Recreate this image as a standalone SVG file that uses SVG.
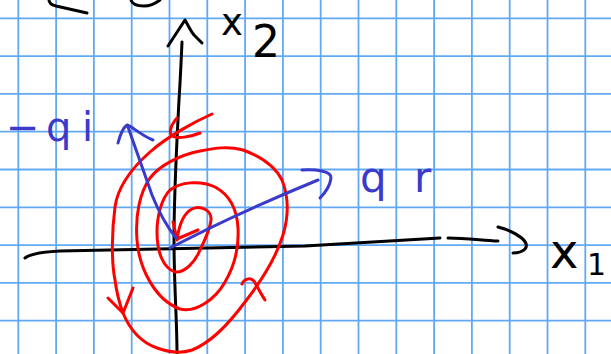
<svg xmlns="http://www.w3.org/2000/svg" width="611" height="354" viewBox="0 0 611 354">
<style>
.grid line{stroke:#62a9f4;stroke-width:1.8}
.ink{fill:none;stroke-linecap:round;stroke-linejoin:round;stroke-width:3}
.k{stroke:#000}
.b{stroke:#3a3acb}
.r{stroke:#ff0000}
.lbl{font-family:"DejaVu Sans",sans-serif}
</style>
<rect width="611" height="354" fill="#fff"/>
<g class="grid" id="grid">
<line x1="18.3" y1="0" x2="18.3" y2="354"/><line x1="56.1" y1="0" x2="56.1" y2="354"/><line x1="93.9" y1="0" x2="93.9" y2="354"/><line x1="131.7" y1="0" x2="131.7" y2="354"/><line x1="169.5" y1="0" x2="169.5" y2="354"/><line x1="207.3" y1="0" x2="207.3" y2="354"/><line x1="245.1" y1="0" x2="245.1" y2="354"/><line x1="282.9" y1="0" x2="282.9" y2="354"/><line x1="320.7" y1="0" x2="320.7" y2="354"/><line x1="358.5" y1="0" x2="358.5" y2="354"/><line x1="396.3" y1="0" x2="396.3" y2="354"/><line x1="434.1" y1="0" x2="434.1" y2="354"/><line x1="471.9" y1="0" x2="471.9" y2="354"/><line x1="509.7" y1="0" x2="509.7" y2="354"/><line x1="547.5" y1="0" x2="547.5" y2="354"/><line x1="585.3" y1="0" x2="585.3" y2="354"/>
<line x1="0" y1="18.3" x2="611" y2="18.3"/><line x1="0" y1="56.1" x2="611" y2="56.1"/><line x1="0" y1="93.9" x2="611" y2="93.9"/><line x1="0" y1="131.7" x2="611" y2="131.7"/><line x1="0" y1="169.5" x2="611" y2="169.5"/><line x1="0" y1="207.3" x2="611" y2="207.3"/><line x1="0" y1="245.1" x2="611" y2="245.1"/><line x1="0" y1="282.9" x2="611" y2="282.9"/><line x1="0" y1="320.7" x2="611" y2="320.7"/>
</g>
<g id="top-fragments" class="ink k">
<path d="M49,0 C49,3 52,5 56,6 L87,13"/>
<path d="M131,0 C132,4 137,6 144,6 C150,6 156,3 160,0"/>
</g>
<g id="connectors">
<g id="y-axis" class="ink k">
<path d="M182,42 C181,65 180,85 179,100 C177,140 174,190 174,240 C174,285 177,320 177,354"/>
<path d="M168,46 L185,20 C188,25 190,30 194,35 L202,43"/>
</g>
<g id="x-axis" class="ink k">
<path d="M25,258 C30,254 40,252 60,251 L305,246 L440,238 M448,238 C465,238 480,240 498,241"/>
<path d="M498,227 C520,233 530,243 525,249 C522,252 516,253 513,253"/>
</g>
<g id="spiral" class="ink r">
<path d="M212,114 C196,121 168,136 150,152 C133,167 118,185 115,207 C112,230 111,260 115,280 C117,295 120,305 123,313 C130,330 140,342 157,348 C168,352 180,354 192,350 C210,343 228,325 245,302 C262,280 276,258 283,235 C289,215 288,195 282,180 C276,168 265,158 243,150 C228,146 215,148 200,151 C180,155 160,165 150,178 C140,192 135,215 137,240 C139,268 155,300 180,309 C195,313 215,300 225,282 C235,265 239,245 238,228 C237,210 230,195 215,187 C200,180 180,182 170,190 C162,198 157,215 157,232 C157,252 163,268 175,272 C185,273 195,262 200,250 C205,240 210,230 211,220 C212,210 200,205 192,209 C184,213 179,225 177,240"/>
<path d="M173,222 L177,239 L198,230"/>
<path d="M108,298 L123,313 L133,288"/>
<path d="M177,118 C172,124 168,131 172,136 C178,139 190,137 200,133"/>
<path d="M242,284 C244,279 250,277 254,281 C258,288 261,294 265,300"/>
</g>
<g id="vec-r" class="ink b">
<path d="M170,248 Q235,214 318,180"/>
<path d="M302,170 C315,169 332,171 331,178 C330,186 325,193 320,198"/>
</g>
<g id="vec-i" class="ink b">
<path d="M176,238 C168,228 160,215 152,195 L128,127"/>
<path d="M118,143 C120,135 123,128 127,125 C132,126 140,135 153,140"/>
</g>
</g>
<g id="label-x2" class="lbl" fill="#000">
<text x="221" y="35" font-size="37">x</text>
<text x="252" y="57" font-size="44">2</text>
</g>
<g id="label-x1" class="lbl" fill="#000">
<text x="550" y="268" font-size="48">x</text>
<text x="587" y="275" font-size="30">1</text>
</g>
<g id="label-qi" class="lbl" fill="#3a3acb">
<text x="6 46 82" y="141" font-size="40">−qi</text>
</g>
<g id="label-qr" class="lbl" fill="#3a3acb">
<text x="360 414" y="192" font-size="42">qr</text>
</g>
</svg>
